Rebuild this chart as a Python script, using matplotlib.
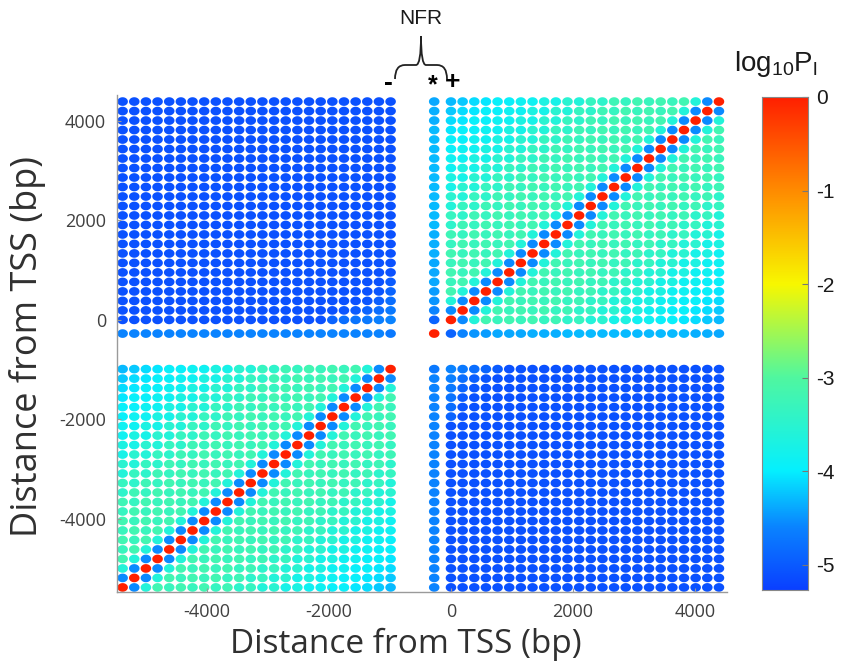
import matplotlib.pyplot as plt
from matplotlib.colors import LinearSegmentedColormap, Normalize
from matplotlib.path import Path
from matplotlib.patches import PathPatch
import numpy as np

plt.rcParams['axes.unicode_minus'] = False

# -----------------------------------------------------------------------------
# nucleosome centres (bp from TSS): upstream flank, the NFR one (*), downstream
# -----------------------------------------------------------------------------
minus_pos = [-990, -1181, -1372, -1563, -1754, -1945, -2136, -2327, -2518,
             -2709, -2900, -3091, -3282, -3473, -3664, -3855, -4046, -4237,
             -4428, -4619, -4810, -5001, -5192, -5383]
star_pos = -275
plus_pos = [0, 191, 382, 573, 764, 955, 1146, 1337, 1528, 1719, 1910, 2101,
            2292, 2483, 2674, 2865, 3056, 3247, 3438, 3629, 3820, 4011, 4202,
            4393]

# log10 P_l inside each flank, by separation |i - j|
sep_minus = [0.0, -4.55, -3.6, -3.2, -3.3, -3.2, -3.3, -3.2, -3.35, -3.25,
             -3.45, -3.35, -3.6, -3.5, -3.75, -3.7, -3.85, -3.85, -3.95, -3.95,
             -4.05, -4.1, -4.2, -4.3]
sep_plus = [0.0, -4.55, -3.6, -3.2, -3.3, -3.2, -3.3, -3.2, -3.35, -3.25,
            -3.45, -3.35, -3.6, -3.5, -3.75, -3.7, -3.85, -3.85, -3.95, -3.95,
            -4.05, -4.1, -4.2, -4.3]

# upstream vs downstream: flat, a bit lighter in the corner next to the NFR
cross_base = -5.1
# rows: plus index 0.., cols: minus index 0..
cross_corner = [[-4.6, -4.65, -4.7, -4.75, -4.8, -4.9],
                [-4.7, -4.8, -4.9, -5.0, -5.05, -5.1],
                [-4.8, -4.95, -5.05, -5.1, -5.1, -5.1],
                [-4.9, -5.05, -5.1, -5.1, -5.1, -5.1],
                [-5.0, -5.1, -5.1, -5.1, -5.1, -5.1]]

# NFR nucleosome against each flank
star_minus = [-4.7, -4.6, -4.6, -4.6, -4.6, -4.6, -4.6, -4.6, -4.6, -4.6,
              -4.6, -4.6, -4.6, -4.6, -4.6, -4.6, -4.6, -4.6, -4.6, -4.6,
              -4.6, -4.6, -4.6, -4.6]
star_plus = [-4.9, -4.6, -4.5, -4.45, -4.4, -4.4, -4.4, -4.35, -4.35, -4.35,
             -4.3, -4.3, -4.3, -4.3, -4.3, -4.3, -4.3, -4.3, -4.3, -4.3,
             -4.3, -4.35, -4.35, -4.4]
star_self = 0.0

# colour scale of the bar
cmap_vals = [-5.27, -4.6, -4.0, -3.0, -2.0, -1.0, 0.0]
cmap_cols = ['#0a40ff', '#0a84ff', '#05f0ff', '#50f7a0', '#f8f800',
             '#ff8c00', '#ff2000']
vmin, vmax = -5.27, 0.0

# -----------------------------------------------------------------------------
# assemble the symmetric matrix
# -----------------------------------------------------------------------------
nm, npl = len(minus_pos), len(plus_pos)
pos = minus_pos + [star_pos] + plus_pos
n = len(pos)
M = np.full((n, n), cross_base)
im = list(range(nm))
ist = nm
ip = list(range(nm + 1, n))
for a in range(nm):
    for b in range(nm):
        M[im[a], im[b]] = sep_minus[abs(a - b)]
for a in range(npl):
    for b in range(npl):
        M[ip[a], ip[b]] = sep_plus[abs(a - b)]
for a, row in enumerate(cross_corner):
    for b, v in enumerate(row):
        M[ip[a], im[b]] = v
        M[im[b], ip[a]] = v
for a in range(nm):
    M[ist, im[a]] = M[im[a], ist] = star_minus[a]
for a in range(npl):
    M[ist, ip[a]] = M[ip[a], ist] = star_plus[a]
M[ist, ist] = star_self

X, Y = np.meshgrid(pos, pos)

# -----------------------------------------------------------------------------
# draw
# -----------------------------------------------------------------------------
W, H = 842, 665
fig = plt.figure(figsize=(W / 100, H / 100), dpi=100)
fig.patch.set_facecolor('white')


def fx(px):
    return px / W


def fy(py):
    return 1 - py / H


ax = fig.add_axes([fx(117), fy(592), fx(727) - fx(117), fy(95) - fy(592)])

cm = LinearSegmentedColormap.from_list(
    'bar', [((v - vmin) / (vmax - vmin), c) for v, c in zip(cmap_vals, cmap_cols)])
norm = Normalize(vmin, vmax)

t = np.linspace(0, 2 * np.pi, 40)
ellipse = Path(np.column_stack([np.cos(t), 0.82 * np.sin(t)]), closed=True)

ax.scatter(X.ravel(), Y.ravel(), c=M.ravel(), cmap=cm, norm=norm,
           s=58, marker=ellipse, linewidths=0)

ax.set_xlim(-5475, 4525)
ax.set_ylim(-5475, 4525)
ax.set_xticks([-4000, -2000, 0, 2000, 4000])
ax.set_yticks([-4000, -2000, 0, 2000, 4000])
for s in ['top', 'right']:
    ax.spines[s].set_visible(False)
for s in ['left', 'bottom']:
    ax.spines[s].set_color('#9a9a9a')
    ax.spines[s].set_linewidth(1.0)
ax.tick_params(direction='in', length=3, color='#9a9a9a', labelcolor='#404040',
               labelsize=13, pad=8)
for lab in ax.get_xticklabels() + ax.get_yticklabels():
    lab.set_family('Open Sans')

ax.set_xlabel('Distance from TSS (bp)', fontsize=24, family='Open Sans',
              color='#303030')
ax.xaxis.set_label_coords(0.474, -0.072)
ax.set_ylabel('Distance from TSS (bp)', fontsize=26, family='Open Sans',
              color='#303030')
ax.yaxis.set_label_coords(-0.116, 0.493)

# colour bar
cax = fig.add_axes([fx(762), fy(590), fx(808) - fx(762), fy(97) - fy(590)])
grad = np.linspace(vmin, vmax, 256).reshape(-1, 1)
cax.imshow(grad, aspect='auto', origin='lower', cmap=cm, norm=norm,
           extent=[0, 1, vmin, vmax])
cax.set_xticks([])
cax.yaxis.tick_right()
cax.set_yticks([0, -1, -2, -3, -4, -5])
cax.set_yticklabels(['0', '-1', '-2', '-3', '-4', '-5'])
cax.tick_params(axis='y', direction='in', length=4, color='#777777',
                labelsize=15, pad=6, labelcolor='#1a1a1a')
for lab in cax.get_yticklabels():
    lab.set_family('Liberation Sans')
for s in cax.spines.values():
    s.set_color('#888888')
    s.set_linewidth(0.8)
fig.text(fx(776), fy(64), r'log$_{\mathregular{10}}$P$_{\mathregular{l}}$',
         fontsize=20, family='Liberation Sans', ha='center', va='center',
         color='#1a1a1a')

# NFR brace and labels
verts = [(395, 79), (395, 65), (405, 65), (416, 65), (421, 65), (421, 36),
         (421, 65), (426, 65), (437, 65), (447, 65), (447, 79)]
codes = [Path.MOVETO, Path.CURVE3, Path.CURVE3, Path.LINETO, Path.CURVE3,
         Path.CURVE3, Path.CURVE3, Path.CURVE3, Path.LINETO, Path.CURVE3,
         Path.CURVE3]
brace = Path([(fx(x), fy(y)) for x, y in verts], codes)
fig.add_artist(PathPatch(brace, transform=fig.transFigure, fill=False,
                         lw=1.3, color='#222222'))
fig.text(fx(421), fy(19), 'NFR', fontsize=15, family='Liberation Sans',
         ha='center', va='center', color='#1a1a1a')
fig.text(fx(388), fy(83), '-', fontsize=19, fontweight='bold',
         family='Liberation Sans', ha='center', va='center')
fig.text(fx(433), fy(85), '*', fontsize=18, fontweight='bold',
         family='Liberation Sans', ha='center', va='center')
fig.text(fx(453), fy(82), '+', fontsize=19, fontweight='bold',
         family='Liberation Sans', ha='center', va='center')

fig.savefig('out.png', dpi=100)
